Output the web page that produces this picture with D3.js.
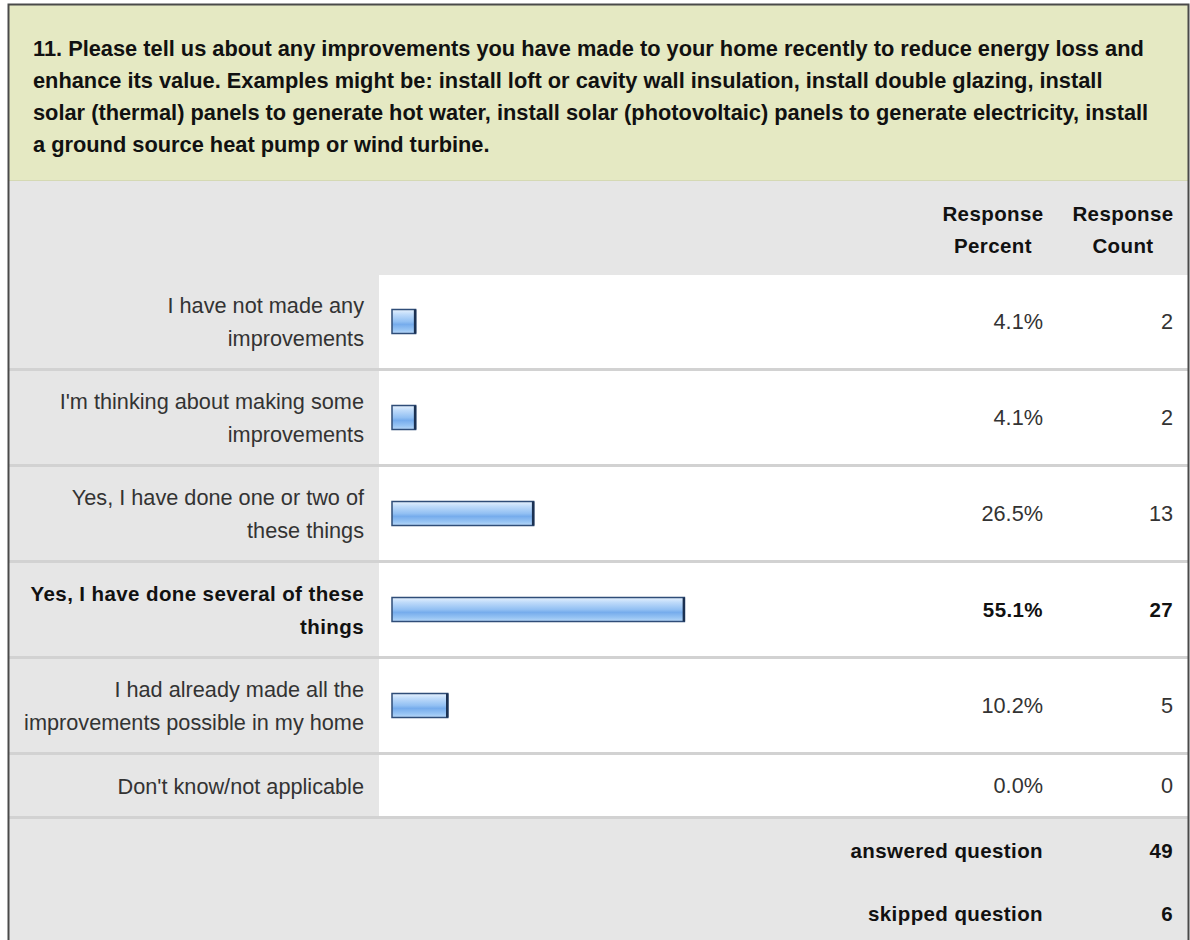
<!DOCTYPE html>
<html>
<head>
<meta charset="utf-8">
<script src="https://cdn.jsdelivr.net/npm/d3@7"></script>
<style>
  html, body { margin: 0; padding: 0; background: #fff; }
  svg { display: block; font-family: "Liberation Sans", Arial, sans-serif; }
</style>
</head>
<body>
<svg id="chart" width="1190" height="940"></svg>
<script>
// question text, broken as in the survey export
const titleLines = [
  '11. Please tell us about any improvements you have made to your home recently to reduce energy loss and',
  'enhance its value. Examples might be: install loft or cavity wall insulation, install double glazing, install',
  'solar (thermal) panels to generate hot water, install solar (photovoltaic) panels to generate electricity, install',
  'a ground source heat pump or wind turbine.'
];
const answers = [
  ['I have not made any', 'improvements'],
  ["I'm thinking about making some", 'improvements'],
  ['Yes, I have done one or two of', 'these things'],
  ['Yes, I have done several of these', 'things'],
  ['I had already made all the', 'improvements possible in my home'],
  ["Don't know/not applicable"]
];
const percents = [4.1, 4.1, 26.5, 55.1, 10.2, 0.0];
const counts = [2, 2, 13, 27, 5, 0];
const headers = [['Response', 'Percent'], ['Response', 'Count']];
const summaryLabels = ['answered question', 'skipped question'];
const summaryValues = [49, 6];

const svg = d3.select('#chart');
const left = 9, right = 1188;
const labelColW = 379;
const pctRight = 1043, cntRight = 1173;
const regular = 21.7, boldSize = 20.5, boldSpacing = 0.4;

// gradient for the bars
const defs = svg.append('defs');
const grad = defs.append('linearGradient')
  .attr('id', 'barGrad').attr('x1', 0).attr('y1', 0).attr('x2', 0).attr('y2', 1);
[[0, '#e6f1fd'], [0.2, '#bfdbfa'], [0.5, '#92c0f3'], [0.62, '#76acec'], [0.85, '#98c5f4'], [1, '#bad8f8']]
  .forEach(([o, c]) => grad.append('stop').attr('offset', o).attr('stop-color', c));

// title block
const titleTop = 5, titleBottom = 180;
svg.append('rect')
  .attr('x', left).attr('y', titleTop)
  .attr('width', right - left).attr('height', titleBottom - titleTop)
  .attr('fill', '#e5e9c3');
svg.append('line')
  .attr('x1', left).attr('x2', right)
  .attr('y1', titleBottom + 0.5).attr('y2', titleBottom + 0.5)
  .attr('stroke', '#d5d9b4');

svg.append('g')
    .attr('font-weight', 'bold')
    .attr('font-size', 21.8)
    .attr('fill', '#111')
  .selectAll('text')
  .data(titleLines)
  .join('text')
    .attr('x', 33)
    .attr('y', (d, i) => 48 + i * 32 + 7.5)
    .text(d => d);

// header row
const headTop = 181, headBottom = 275;
svg.append('rect')
  .attr('x', left).attr('y', headTop)
  .attr('width', right - left).attr('height', headBottom - headTop)
  .attr('fill', '#e6e6e6');

svg.append('g')
    .attr('font-weight', 'bold')
    .attr('font-size', boldSize)
    .attr('letter-spacing', boldSpacing)
    .attr('fill', '#111')
    .attr('text-anchor', 'middle')
  .selectAll('text')
  .data(headers.flatMap((h, c) => h.map((t, l) => ({t, c, l}))))
  .join('text')
    .attr('x', d => d.c === 0 ? 993 : 1123)
    .attr('y', d => 213 + d.l * 32 + 7.5)
    .text(d => d.t);

// answer rows: two-line rows are taller than single-line ones
const rowH = answers.map(a => a.length > 1 ? 96 : 64);
const rowTop = rowH.map((h, i) => headBottom + d3.sum(rowH.slice(0, i)));
const sepH = 3;
const maxCount = d3.max(counts);

const x = d3.scaleLinear().domain([0, 100]).range([0, 527]);
const barX = 392, barH = 24;

const rows = svg.append('g').selectAll('g')
  .data(answers.map((a, i) => ({
    lines: a, pct: percents[i], cnt: counts[i],
    top: rowTop[i], h: rowH[i], bold: counts[i] === maxCount
  })))
  .join('g')
    .attr('transform', d => `translate(0,${d.top})`);

rows.append('rect')
  .attr('x', left).attr('y', 0)
  .attr('width', right - left).attr('height', d => d.h - sepH)
  .attr('fill', '#fff');
rows.append('rect')
  .attr('x', left).attr('y', 0)
  .attr('width', labelColW - left).attr('height', d => d.h - sepH)
  .attr('fill', '#e6e6e6');
rows.append('rect')
  .attr('x', left).attr('y', d => d.h - sepH)
  .attr('width', right - left).attr('height', sepH)
  .attr('fill', '#d2d2d2');

const mid = d => (d.h - sepH) / 2;
const textStyle = sel => sel
  .attr('fill', d => d.bold ? '#111' : '#333')
  .attr('font-weight', d => d.bold ? 'bold' : null)
  .attr('font-size', d => d.bold ? boldSize : regular)
  .attr('letter-spacing', d => d.bold ? boldSpacing : null);

rows.append('text')
    .attr('text-anchor', 'end')
    .call(textStyle)
  .selectAll('tspan')
  .data(d => d.lines.map((t, j) => ({t, j, n: d.lines.length, m: mid(d)})))
  .join('tspan')
    .attr('x', 364)
    .attr('y', d => d.m + (d.j - (d.n - 1) / 2) * 33 + 8)
    .text(d => d.t);

const bars = rows.filter(d => d.pct > 0);
bars.append('rect')
  .attr('x', barX).attr('y', d => mid(d) - barH / 2)
  .attr('width', d => x(d.pct) + 2).attr('height', barH)
  .attr('fill', 'url(#barGrad)')
  .attr('stroke', '#2f4d78')
  .attr('stroke-width', 1.5);
bars.append('line')
  .attr('x1', d => barX + x(d.pct) + 1.5).attr('x2', d => barX + x(d.pct) + 1.5)
  .attr('y1', d => mid(d) - barH / 2).attr('y2', d => mid(d) + barH / 2)
  .attr('stroke', '#1b3152')
  .attr('stroke-width', 2.5);

rows.append('text')
  .attr('x', pctRight)
  .attr('y', d => mid(d) + 7.5)
  .attr('text-anchor', 'end')
  .call(textStyle)
  .text(d => d.pct.toFixed(1) + '%');
rows.append('text')
  .attr('x', cntRight)
  .attr('y', d => mid(d) + 7.5)
  .attr('text-anchor', 'end')
  .call(textStyle)
  .text(d => d.cnt);

// summary footer
const footTop = headBottom + d3.sum(rowH);
svg.append('rect')
  .attr('x', left).attr('y', footTop)
  .attr('width', right - left).attr('height', 940 - footTop)
  .attr('fill', '#e6e6e6');

const foot = svg.append('g')
  .attr('font-weight', 'bold')
  .attr('font-size', boldSize)
  .attr('letter-spacing', boldSpacing)
  .attr('fill', '#111')
  .attr('text-anchor', 'end');
foot.selectAll('text.lab')
  .data(summaryLabels)
  .join('text').attr('class', 'lab')
    .attr('x', pctRight)
    .attr('y', (d, i) => footTop + 31 + i * 63 + 7.5)
    .text(d => d);
foot.selectAll('text.val')
  .data(summaryValues)
  .join('text').attr('class', 'val')
    .attr('x', cntRight)
    .attr('y', (d, i) => footTop + 31 + i * 63 + 7.5)
    .text(d => d);

// outer frame (bottom runs off the page)
svg.append('path')
  .attr('d', `M${left - 0.5},940 V${titleTop - 0.5} H${right + 0.5} V940`)
  .attr('fill', 'none')
  .attr('stroke', '#4a4a4a')
  .attr('stroke-width', 2);
</script>
</body>
</html>
